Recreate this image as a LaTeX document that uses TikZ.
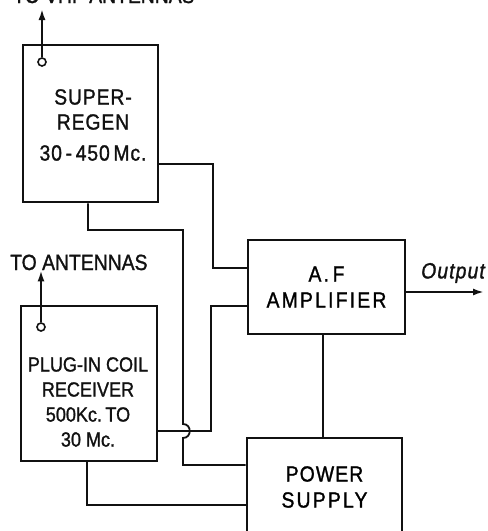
\documentclass[tikz,border=0pt]{standalone}
\usepackage{fontspec}
\setmainfont{Liberation Sans}[FakeStretch=0.88, FakeBold=1.2]
\usetikzlibrary{arrows.meta,positioning,calc}
\definecolor{inkBlack}{HTML}{111111}
\newcommand\lspace[1]{\addfontfeature{LetterSpace=#1}}
\tikzset{
  rxArrow/.style={-{Latex[length=11pt,width=7pt]}, line width=2pt, draw=inkBlack},
  rxWire/.style={line width=1.8pt, draw=inkBlack},
  rxBox/.style={
    draw=inkBlack,
    line width=2.6pt,
    align=center,
    inner sep=0pt
  },
  rxText/.style={
    align=center,
    inner sep=0pt,
    text=inkBlack
  },
  rxTerm/.style={
    circle,
    draw=inkBlack,
    line width=1.6pt,
    fill=white,
    minimum size=8pt,
    inner sep=0pt
  }
}

\begin{document}
\begin{tikzpicture}[x=1pt, y=-1pt, font=\fontsize{22}{25}\selectfont]
  \useasboundingbox (0,0) rectangle (488,531);
  \clip (0,0) rectangle (488,531);

  \node[rxBox, minimum width=135pt, minimum height=157pt] (superregen) at (90.5,123.5) {};
  \node[rxText] (superregentext) at (93,125)
    {\lspace{4}SUPER-\\[0pt]\lspace{4}REGEN\\[6pt]\lspace{4}30\,-\,450\,Mc.};
  \node[rxBox, minimum width=136pt, minimum height=155pt] (receiver) at (89,383.5) {};
  \node[rxText, font=\fontsize{20.5}{25}\selectfont] (receivertext) at (88,402)
    {PLUG-IN COIL\\RECEIVER\\500Kc.\,TO\\30 Mc.};
  \node[rxBox, minimum width=157pt, minimum height=94pt] (amplifier) at (326.5,287)
    {\lspace{10}A.\,F\\[1pt]\lspace{10}AMPLIFIER};
  \node[rxBox, minimum width=155pt, minimum height=98pt] (supply) at (324.5,487)
    {\lspace{5}POWER\\[1pt]\lspace{10}SUPPLY};

  % antenna terminals
  \node[rxTerm] (vhfterm) at (42,62) {};
  \coordinate (vhfup) at (42,9);
  \node[rxText, anchor=base west] (vhflabel) at (13,3) {TO VHF ANTENNAS};
  \draw[rxArrow] (vhfterm) -- (vhfup);
  \node[rxTerm] (ant) at (41,327) {};
  \node[rxText, anchor=base west] (antlabel) at (10,270) {TO ANTENNAS};
  \draw[rxArrow] (ant) -- (antlabel.south -| ant);

  % signal leads to the amplifier
  \draw[rxWire] (superregen.east |- 0,164) -| (213,268) -- (amplifier.west |- 0,268);
  \draw[rxWire] (receiver.east |- 0,431) -| (211,306) -- (amplifier.west |- 0,306);

  % supply leads
  \draw[rxWire] (superregen.south -| 88,0) |- (183,230) -- (183,424)
    .. controls (192,424) and (192,438) .. (183,438) -- (183,465) -- (supply.west |- 0,465);
  \draw[rxWire] (receiver.south -| 87,0) |- (supply.west |- 0,505);
  \draw[rxWire] (amplifier.south -| 323,0) -- (supply.north -| 323,0);

  % output
  \coordinate (outend) at (484,292);
  \draw[rxArrow] (amplifier.east |- outend) -- (outend);
  \node[rxText, font=\fontsize{22}{25}\selectfont\itshape] (outlabel) at (453,273) {\lspace{5}Output};
\end{tikzpicture}
\end{document}
